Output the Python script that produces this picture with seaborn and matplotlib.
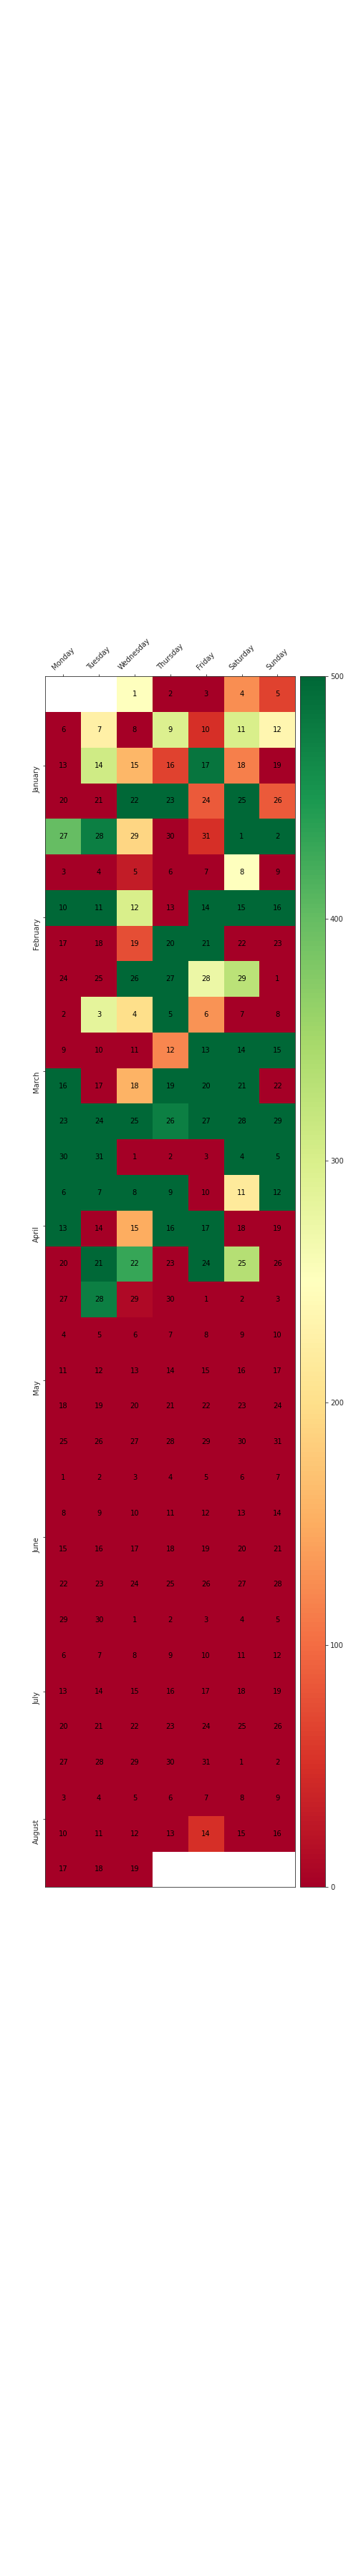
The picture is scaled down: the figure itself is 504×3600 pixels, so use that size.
import numpy as np
import pandas as pd
import matplotlib
matplotlib.use("Agg")
import matplotlib.pyplot as plt
import seaborn as sns

# ---- data (daily values, 2020-01-01 .. 2020-08-19) ----
start_date = "2020-01-01"
jan = [250, 0, 0, 125, 65, 0, 225, 0, 295, 50, 300, 235, 0, 310, 160, 65, 485, 115, 0,
       0, 0, 500, 500, 85, 500, 85, 400, 475, 190, 0, 50]
feb = [500, 500, 0, 0, 30, 0, 0, 250, 0, 500, 500, 300, 0, 500, 500, 500, 0, 0, 75,
       500, 500, 0, 0, 0, 0, 500, 500, 275, 330]
mar = [0, 0, 285, 200, 500, 130, 0, 0, 0, 0, 0, 120, 500, 500, 500, 500, 0, 155, 500,
       500, 500, 0, 500, 500, 500, 475, 500, 500, 500, 500, 500]
apr = [0, 0, 0, 500, 500, 500, 500, 500, 500, 0, 215, 500, 500, 0, 150, 500, 500, 0, 0,
       0, 500, 430, 0, 500, 335, 0, 0, 475, 10, 0]
may = [0] * 31
jun = [0] * 30
jul = [0] * 31
aug = [0, 0, 0, 0, 0, 0, 0, 0, 0, 0, 0, 0, 0, 50, 0, 0, 0, 0, 0]
weekdays = ["Monday", "Tuesday", "Wednesday", "Thursday", "Friday", "Saturday", "Sunday"]
months = ["January", "February", "March", "April", "May", "June", "July", "August"]

values = jan + feb + mar + apr + may + jun + jul + aug
dates = pd.date_range(start_date, periods=len(values), freq="D")
first_monday = dates[0] - pd.Timedelta(days=dates[0].weekday())
rows = np.array([(d - first_monday).days // 7 for d in dates])
cols = np.array([d.weekday() for d in dates])
n_rows = rows.max() + 1

grid = np.full((n_rows, 7), np.nan)
annot = np.full((n_rows, 7), "", dtype=object)
for v, r, c, d in zip(values, rows, cols, dates):
    grid[r, c] = v
    annot[r, c] = str(d.day)
df = pd.DataFrame(grid, columns=weekdays)

month_pos = [rows[dates.month == m + 1].mean() + 0.5 for m in range(len(months))]

sns.set_style("ticks")
plt.rcParams["font.family"] = ["DejaVu Sans"]

fig = plt.figure(figsize=(7, 50), dpi=72)
ax = fig.add_axes([0.1256, 0.26742, 0.69246, 0.47])
cax = fig.add_axes([0.8319, 0.26742, 0.0689, 0.47])

sns.heatmap(df, ax=ax, cbar_ax=cax, cmap="RdYlGn", vmin=0, vmax=500,
            annot=annot, fmt="", annot_kws={"color": "black", "fontsize": 10},
            xticklabels=weekdays, yticklabels=False)

for s in ax.spines.values():
    s.set_visible(True)
    s.set_linewidth(0.8)
    s.set_color("#262626")

ax.xaxis.tick_top()
ax.set_xticks(np.arange(7) + 0.5)
ax.set_xticklabels(weekdays, rotation=45, ha="center", fontsize=10)
ax.tick_params(axis="x", top=True, bottom=False, labeltop=True, labelbottom=False,
               length=3.5, width=0.8, pad=3.5)
ax.set_yticks(month_pos)
ax.set_yticklabels(months, rotation=90, va="top", fontsize=10)
ax.tick_params(axis="y", left=True, length=3.5, width=0.8, pad=3.5)
ax.set_xlabel("")
ax.set_ylabel("")

cbar = ax.collections[0].colorbar
cbar.outline.set_visible(True)
cbar.outline.set_linewidth(0.8)
cbar.outline.set_edgecolor("#262626")
cbar.set_ticks([0, 100, 200, 300, 400, 500])
cbar.ax.tick_params(length=3.5, width=0.8, labelsize=10, pad=3.5)

fig.savefig("out.png", dpi=72)
